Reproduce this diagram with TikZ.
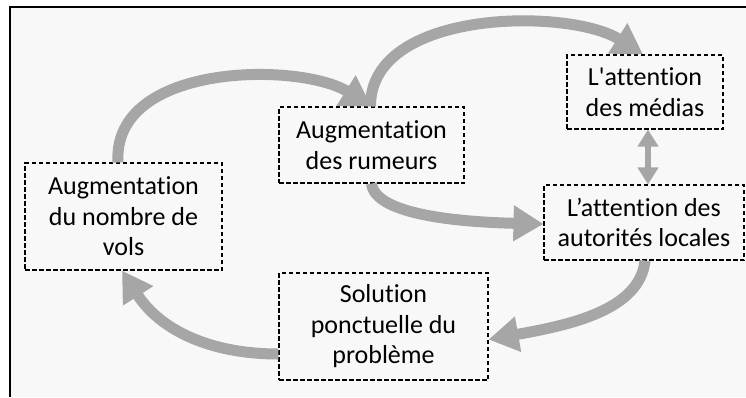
\documentclass[tikz,border=0pt]{standalone}
\usepackage{fontspec}
\setmainfont{Carlito}[Ligatures={TeXOff,NoCommon}]
\usetikzlibrary{arrows.meta}
\definecolor{arr}{HTML}{A6A6A6}
\definecolor{bg}{HTML}{F8F8F8}
\begin{document}
\begin{tikzpicture}[x=1pt,y=-1pt,
  box/.style={draw=black, dash pattern=on 4.5pt off 2.5pt, line width=1.1pt, align=center, inner sep=0pt, font=\fontsize{26}{30.5}\selectfont},
  flow/.style={draw=arr, line width=11pt, -{Triangle[length=30pt,width=34pt]}},
  dbl/.style={draw=arr, line width=5.5pt, {Triangle[length=17pt,width=20pt]}-{Triangle[length=17pt,width=20pt]}}]
\useasboundingbox (0,0) rectangle (746,397);
\fill[bg] (10,7) rectangle (746,397);
\draw[line width=1.5pt] (10,397) -- (10,7) -- (746,7);

\node[box, minimum width=197pt, minimum height=107pt] (A) at (123.5,216.5) {Augmentation\\du nombre de\\vols};
\node[box, minimum width=185pt, minimum height=76pt] (B) at (371.5,145) {Augmentation\\des rumeurs};
\node[box, minimum width=156pt, minimum height=74pt] (C) at (645,92) {L'attention\\des médias};
\node[box, minimum width=200pt, minimum height=75pt] (D) at (644,222.5) {L’attention des\\autorités locales};
\node[box, minimum width=209pt, minimum height=107pt] (E) at (383.5,326.5) {Solution\\ponctuelle du\\problème};

\draw[flow] ([xshift=-5.5pt]A.north) .. controls (112,62) and (300,62) .. (B.north);
\draw[flow] ([xshift=-1pt]B.north) .. controls (370,8) and (570,8) .. ([xshift=-2pt]C.north);
\draw[flow] (B.south) .. controls (375,215) and (460,222) .. ([yshift=-1.5pt]D.west);
\draw[flow] ([xshift=1pt]D.south) .. controls (640,310) and (570,325) .. ([yshift=-13pt]E.east);
\draw[flow] ([yshift=-27.5pt]E.west) .. controls (210,354) and (160,330) .. ([xshift=-1.5pt]A.south);
\draw[dbl] ([xshift=3pt]C.south) -- ([xshift=4pt]D.north);
\end{tikzpicture}
\end{document}
